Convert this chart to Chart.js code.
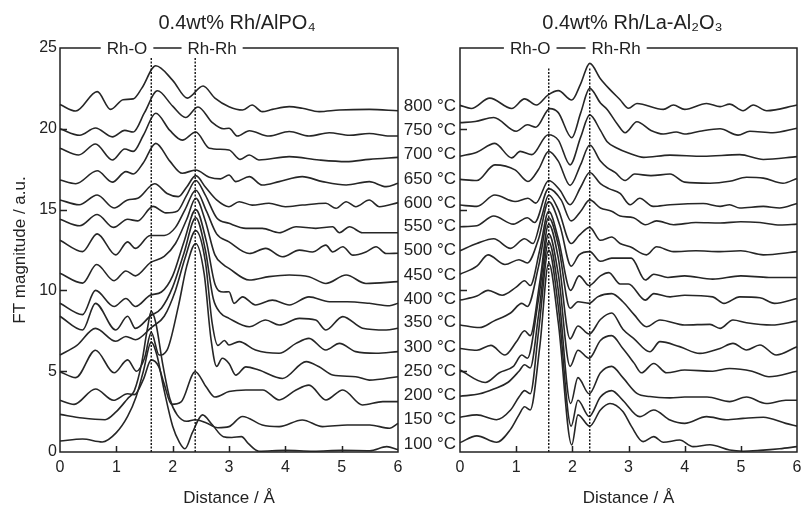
<!DOCTYPE html>
<html>
<head>
<meta charset="utf-8">
<script src="https://cdn.jsdelivr.net/npm/chart.js@4.4.1/dist/chart.umd.min.js"></script>
<style>
  body { margin: 0; background: #fff; width: 803px; height: 506px; overflow: hidden; position: relative; }
  canvas { position: absolute; top: 0; }
  #chartA { left: 0; z-index: 2; }
  #chartB { left: 402px; z-index: 1; }
</style>
</head>
<body>
<canvas id="chartA" width="412" height="506"></canvas>
<canvas id="chartB" width="411" height="506"></canvas>
<script>
const temps = ['100', '150', '200', '250', '300', '350', '400', '450', '500', '550', '600', '650', '700', '750', '800'];
// where the temperature labels sit, in FT magnitude units
const tempLevels = [0.5, 2.0, 3.5, 5.0, 6.5, 8.0, 9.45, 10.95, 12.45, 13.95, 15.4, 16.9, 18.4, 19.9, 21.4];
const xTicks = [0, 1, 2, 3, 4, 5, 6];
const yTicks = [0, 5, 10, 15, 20, 25];

// Rh/AlPO4, [distance, FT magnitude]
const alpo800 = [[0,21.5],[0.28,21.1],[0.66,22.3],[0.9,21.2],[1.12,21.8],[1.3,21.85],[1.45,22.5],[1.7,23.9],[2.0,23.0],[2.26,21.9],[2.54,22.65],[2.75,21.9],[3.0,21.37],[3.24,21.16],[3.41,21.47],[3.59,21.06],[3.77,21.2],[4.07,21.37],[4.3,21.27],[4.6,21.06],[4.96,21.16],[5.49,21.2],[6,21.12]];
const alpo750 = [[0,20.0],[0.35,19.6],[0.63,20.05],[0.93,19.5],[1.15,19.9],[1.3,19.8],[1.5,21.0],[1.73,22.35],[2.0,21.4],[2.23,20.7],[2.45,21.35],[2.7,20.4],[2.9,20.0],[3.0,20.03],[3.15,19.55],[3.36,19.88],[3.71,19.55],[4.07,19.83],[4.42,19.55],[4.78,19.76],[5.14,19.6],[5.49,19.71],[5.85,19.55],[6,19.55]];
const alpo700 = [[0,18.8],[0.33,18.38],[0.63,19.06],[0.93,18.07],[1.15,18.75],[1.3,18.6],[1.48,19.6],[1.7,20.96],[1.95,19.9],[2.17,19.3],[2.41,19.8],[2.65,18.8],[3.0,18.69],[3.2,18.11],[3.36,18.38],[3.53,18.07],[4.07,18.28],[4.6,18.07],[5.08,17.97],[5.49,18.11],[6,18.23]];
const alpo650 = [[0,16.83],[0.28,16.6],[0.66,17.4],[0.93,16.7],[1.17,17.35],[1.3,17.2],[1.48,17.9],[1.7,19.1],[1.95,18.0],[2.17,17.25],[2.41,17.45],[2.65,17.0],[2.85,16.9],[3.0,17.14],[3.12,16.73],[3.36,17.04],[3.59,16.52],[3.89,16.73],[4.3,17.04],[4.66,16.73],[5.08,16.52],[5.49,16.73],[5.79,16.42],[6,16.63]];
const alpo600 = [[0,15.6],[0.34,15.3],[0.66,15.9],[0.96,15.1],[1.2,15.6],[1.38,15.7],[1.68,16.6],[1.9,16.0],[2.1,15.8],[2.25,16.4],[2.41,17.1],[2.58,16.4],[2.78,15.6],[3.0,15.18],[3.18,15.49],[3.41,15.28],[3.71,15.39],[4.0,15.18],[4.3,15.28],[4.72,15.39],[4.9,15.08],[5.08,15.49],[5.25,15.18],[5.49,15.59],[5.67,15.18],[6,15.43]];
const alpo550 = [[0,14.4],[0.35,14.0],[0.66,14.7],[0.95,13.9],[1.2,14.4],[1.38,14.3],[1.65,15.2],[1.88,14.8],[2.08,14.9],[2.25,15.9],[2.41,16.8],[2.58,15.9],[2.78,14.5],[3.0,14.15],[3.3,13.84],[3.59,13.84],[3.89,13.57],[4.19,13.94],[4.54,13.84],[4.84,13.94],[4.96,13.57],[5.14,13.94],[5.37,13.57],[6,13.57]];
const alpo500 = [[0,13.1],[0.4,12.4],[0.66,13.5],[0.99,12.2],[1.2,13.0],[1.34,12.6],[1.6,13.4],[1.85,13.4],[2.05,13.9],[2.22,15.0],[2.41,16.2],[2.6,14.9],[2.78,13.5],[3.0,13.0],[3.36,12.28],[3.65,12.6],[3.95,12.08],[4.25,12.49],[4.48,12.38],[4.72,12.8],[4.84,12.38],[5.02,12.7],[5.2,12.18],[5.43,12.38],[5.61,12.7],[5.79,12.28],[6,12.3]];
const alpo450 = [[0,11.06],[0.4,10.45],[0.65,11.6],[0.96,10.6],[1.17,11.2],[1.34,10.9],[1.6,11.7],[1.85,12.1],[2.05,12.9],[2.25,14.4],[2.41,15.7],[2.58,14.3],[2.75,12.2],[2.9,11.6],[3.0,11.36],[3.36,10.64],[3.71,10.85],[4.07,10.95],[4.42,10.85],[4.72,10.43],[5.08,10.95],[5.43,10.43],[6,10.54]];
const alpo400 = [[0,9.2],[0.4,8.5],[0.63,10.0],[0.96,9.0],[1.17,9.5],[1.34,9.0],[1.6,9.7],[1.8,9.9],[2.0,10.9],[2.2,13.0],[2.41,15.0],[2.6,13.0],[2.75,10.4],[2.9,9.9],[3.0,9.92],[3.09,9.2],[3.24,9.6],[3.47,9.1],[3.77,9.4],[4.07,9.1],[4.42,9.6],[4.78,9.3],[5.1,9.3],[5.49,9.2],[5.85,9.05],[6,9.2]];
const alpo350 = [[0,8.4],[0.4,7.55],[0.63,9.2],[0.99,7.55],[1.2,8.4],[1.34,7.65],[1.6,8.4],[1.8,8.9],[2.0,10.2],[2.2,12.3],[2.41,14.5],[2.58,12.5],[2.72,9.5],[2.85,8.6],[3.0,8.27],[3.36,7.75],[3.65,8.17],[3.89,7.86],[4.25,8.27],[4.54,8.17],[4.72,7.55],[5.02,8.38],[5.37,7.66],[5.79,7.55],[6,7.66]];
const alpo300 = [[0,6.0],[0.3,6.6],[0.63,7.65],[0.99,6.85],[1.17,7.15],[1.34,6.95],[1.62,7.7],[1.85,8.4],[2.05,10.0],[2.22,12.0],[2.41,13.7],[2.58,11.8],[2.7,8.0],[2.8,6.6],[2.92,6.9],[3.0,6.62],[3.18,6.83],[3.47,6.31],[3.89,6.11],[4.19,6.72],[4.42,7.03],[4.72,6.31],[4.96,6.72],[5.25,6.21],[5.61,6.11],[6,6.21]];
const alpo250 = [[0,4.97],[0.28,4.6],[0.63,6.3],[0.96,4.9],[1.2,5.7],[1.36,5.0],[1.5,5.8],[1.62,7.4],[1.76,6.0],[1.9,6.3],[2.1,9.0],[2.25,11.5],[2.41,12.9],[2.56,11.0],[2.68,7.0],[2.78,5.3],[2.88,5.8],[3.0,5.48],[3.12,4.76],[3.3,5.27],[3.53,5.07],[3.95,4.55],[4.37,5.59],[4.6,5.27],[4.84,4.76],[5.25,4.66],[5.49,4.45],[6,4.66]];
const alpo200 = [[0,3.2],[0.25,2.95],[0.63,3.9],[0.95,3.2],[1.2,3.6],[1.32,3.55],[1.48,4.5],[1.62,5.7],[1.75,5.3],[1.85,4.2],[1.98,2.95],[2.15,3.1],[2.4,4.97],[2.6,4.0],[2.75,3.4],[3.0,3.74],[3.3,3.84],[3.6,3.84],[3.89,3.22],[4.19,3.84],[4.42,4.14],[4.72,3.22],[5.02,3.84],[5.37,2.91],[5.73,3.12],[6,3.12]];
const alpo150 = [[0,2.33],[0.4,2.1],[0.8,2.0],[1.0,2.5],[1.2,3.3],[1.32,3.8],[1.45,5.5],[1.55,7.6],[1.62,8.7],[1.7,8.0],[1.82,5.5],[1.95,3.3],[2.08,2.3],[2.25,1.9],[2.4,2.0],[2.6,1.8],[2.8,1.5],[3.0,1.57],[3.24,2.2],[3.59,1.67],[3.89,1.57],[4.3,1.98],[4.66,1.57],[5.1,1.67],[5.5,1.67],[5.85,1.47],[6,1.77]];
const alpo100 = [[0,0.68],[0.4,0.8],[0.75,0.62],[1.0,1.2],[1.2,2.2],[1.35,3.4],[1.48,5.0],[1.62,6.8],[1.72,6.0],[1.85,3.8],[2.0,1.6],[2.12,0.6],[2.22,0.2],[2.35,1.2],[2.53,2.3],[2.7,1.7],[2.9,0.95],[3.05,0.9],[3.22,0.95],[3.35,0.5],[3.53,0.05],[4.0,0.1],[4.5,0.05],[5.0,0.1],[5.5,0.08],[5.8,0.33],[6,0.15]];

// Rh/La-Al2O3
const la800 = [[0,21.45],[0.2,21.26],[0.53,21.9],[0.92,21.26],[1.15,21.85],[1.36,21.47],[1.57,22.1],[1.75,22.36],[1.99,21.78],[2.15,22.8],[2.31,24.05],[2.5,23.1],[2.65,22.5],[2.85,21.8],[3.0,21.27],[3.15,21.57],[3.62,21.2],[3.8,21.47],[4.0,21.2],[4.39,21.57],[4.63,21.37],[4.8,21.53],[5.04,21.12],[5.22,21.47],[5.46,21.12],[6,21.47]];
const la750 = [[0,20.38],[0.27,20.45],[0.6,20.7],[1.0,19.85],[1.2,20.25],[1.35,20.1],[1.6,21.25],[1.75,21.0],[1.99,19.45],[2.15,21.0],[2.31,22.5],[2.5,21.6],[2.62,21.2],[2.8,20.3],[2.94,19.76],[3.15,20.44],[3.4,19.9],[3.62,19.68],[3.85,19.8],[4.0,19.68],[4.27,19.85],[4.63,20.0],[4.95,19.61],[5.16,19.85],[5.57,19.76],[6,20.03]];
const la700 = [[0,18.3],[0.3,18.55],[0.62,19.1],[0.92,18.2],[1.07,18.6],[1.28,18.4],[1.57,19.63],[1.75,19.3],[1.96,17.77],[2.15,19.5],[2.31,20.86],[2.5,19.9],[2.62,19.2],[2.8,18.8],[3.0,18.5],[3.27,18.23],[3.74,18.37],[4.33,18.3],[4.98,18.4],[5.4,18.1],[6,18.28]];
const la650 = [[0,16.87],[0.3,16.8],[0.62,17.77],[0.98,17.46],[1.21,16.74],[1.4,17.5],[1.58,18.6],[1.75,18.0],[1.96,16.5],[2.15,17.8],[2.31,19.0],[2.5,18.0],[2.62,17.6],[2.76,17.3],[2.94,16.8],[3.11,17.2],[3.4,17.1],[3.74,17.2],[4.0,16.7],[4.45,16.63],[4.8,16.75],[5.1,17.0],[5.4,16.95],[5.75,16.63],[6,16.93]];
const la600 = [[0,15.28],[0.3,15.2],[0.62,15.9],[0.98,15.5],[1.21,15.7],[1.35,15.4],[1.58,16.8],[1.78,16.2],[1.96,15.3],[2.15,16.4],[2.31,17.3],[2.5,16.6],[2.65,16.3],[2.85,16.0],[3.03,15.3],[3.2,15.7],[3.44,15.2],[3.74,15.3],[4.33,15.38],[4.63,15.2],[4.8,15.3],[4.98,15.1],[5.4,15.2],[5.69,15.1],[6,15.38]];
const la550 = [[0,13.94],[0.3,14.0],[0.6,14.6],[0.95,14.1],[1.2,14.5],[1.33,14.2],[1.58,16.3],[1.8,15.6],[1.98,14.3],[2.15,14.9],[2.31,15.6],[2.5,15.1],[2.7,14.9],[2.85,14.6],[3.09,14.5],[3.3,14.06],[3.5,14.3],[3.8,14.06],[4.2,14.2],[4.63,14.17],[5.0,14.25],[5.34,14.2],[5.7,14.05],[6,14.1]];
const la500 = [[0,12.46],[0.3,12.9],[0.6,13.2],[0.9,12.6],[1.15,13.2],[1.3,12.9],[1.45,14.5],[1.58,15.9],[1.75,15.0],[1.98,12.9],[2.12,13.4],[2.31,13.9],[2.5,13.1],[2.7,13.3],[2.85,12.9],[3.03,12.7],[3.32,12.2],[3.5,12.7],[3.8,12.4],[4.2,12.45],[4.63,12.4],[5.0,12.45],[5.4,12.2],[6,12.4]];
const la450 = [[0,11.0],[0.3,11.5],[0.5,12.2],[0.8,11.6],[1.05,11.9],[1.2,11.7],[1.4,13.2],[1.58,15.5],[1.78,14.0],[1.98,11.5],[2.12,12.2],[2.31,12.4],[2.5,11.8],[2.7,12.0],[2.9,12.0],[3.05,12.0],[3.3,10.64],[3.45,11.0],[3.7,10.8],[4.0,10.9],[4.5,10.7],[5.0,10.9],[5.5,10.8],[6,10.8]];
const la400 = [[0,9.4],[0.3,9.65],[0.5,10.0],[0.75,9.7],[1.0,10.2],[1.15,10.6],[1.25,10.3],[1.42,12.5],[1.58,14.9],[1.75,13.2],[1.97,10.0],[2.12,10.9],[2.3,10.3],[2.5,10.9],[2.65,11.1],[2.85,10.4],[3.0,10.4],[3.3,9.4],[3.45,9.8],[3.74,9.6],[4.0,9.7],[4.5,9.6],[4.7,9.2],[4.98,9.6],[5.34,9.55],[5.6,9.2],[6,9.5]];
const la350 = [[0,7.86],[0.35,7.7],[0.6,8.1],[0.9,8.6],[1.1,9.2],[1.2,9.0],[1.4,11.5],[1.58,14.5],[1.75,12.8],[1.96,8.9],[2.1,9.3],[2.3,9.2],[2.45,9.6],[2.7,9.8],[2.9,9.3],[3.1,8.5],[3.32,7.75],[3.56,8.17],[4.0,7.86],[4.45,7.9],[4.63,7.65],[4.86,8.17],[5.1,8.0],[5.55,7.86],[6,8.1]];
const la300 = [[0,6.4],[0.3,6.3],[0.55,6.6],[0.8,6.0],[1.0,6.8],[1.15,7.5],[1.25,7.2],[1.42,10.5],[1.58,14.1],[1.75,12.0],[1.96,7.0],[2.1,7.8],[2.3,7.3],[2.5,8.2],[2.7,8.6],[2.9,7.6],[3.1,7.0],[3.38,6.2],[3.56,6.83],[3.91,6.52],[4.27,6.1],[4.63,6.41],[4.86,6.72],[5.1,6.31],[5.34,6.62],[5.63,6.0],[6,6.52]];
const la250 = [[0,5.07],[0.45,4.3],[0.7,4.9],[0.95,5.3],[1.1,6.0],[1.2,5.8],[1.4,9.5],[1.58,13.5],[1.75,11.0],[1.96,5.3],[2.1,6.3],[2.3,5.8],[2.5,6.9],[2.7,7.2],[2.9,6.4],[3.1,5.5],[3.23,4.9],[3.45,5.48],[3.68,4.9],[4.0,5.07],[4.5,5.0],[4.8,5.17],[5.2,5.0],[5.5,4.66],[6,5.0]];
const la200 = [[0,3.45],[0.35,3.6],[0.6,3.9],[0.85,4.3],[1.05,5.0],[1.15,5.4],[1.25,5.2],[1.4,8.5],[1.58,13.0],[1.75,10.0],[1.97,3.0],[2.1,4.6],[2.3,3.6],[2.5,4.9],[2.7,5.3],[2.9,4.6],[3.15,3.63],[3.38,3.43],[3.74,3.35],[4.0,3.4],[4.4,3.4],[4.8,3.12],[5.1,3.4],[5.45,3.0],[5.8,3.2],[6,3.2]];
const la150 = [[0,2.15],[0.3,2.3],[0.65,2.0],[0.9,2.6],[1.05,3.4],[1.15,3.8],[1.25,3.6],[1.4,7.5],[1.58,12.5],[1.75,9.0],[1.98,1.6],[2.1,3.2],[2.3,2.2],[2.5,3.4],[2.7,3.8],[2.9,3.2],[3.2,2.19],[3.45,2.6],[3.74,1.98],[4.0,1.77],[4.39,2.19],[4.74,2.0],[5.04,2.08],[5.4,2.15],[5.8,1.77],[6,1.6]];
const la100 = [[0,0.58],[0.3,1.0],[0.65,0.6],[0.9,1.4],[1.05,2.3],[1.15,2.8],[1.25,2.6],[1.42,6.5],[1.58,11.7],[1.75,8.0],[1.99,0.44],[2.1,2.3],[2.31,1.6],[2.5,2.6],[2.67,3.0],[2.9,2.5],[3.05,1.6],[3.26,0.64],[3.45,0.95],[3.62,0.6],[3.91,0.74],[4.15,0.33],[4.45,0.45],[4.8,0.12],[5.04,0.05],[5.34,0.1],[5.69,0.2],[6,0.33]];

const alpoCurves = [alpo100, alpo150, alpo200, alpo250, alpo300, alpo350, alpo400, alpo450, alpo500, alpo550, alpo600, alpo650, alpo700, alpo750, alpo800];
const laCurves = [la100, la150, la200, la250, la300, la350, la400, la450, la500, la550, la600, la650, la700, la750, la800];

// Rh-O and Rh-Rh reference distances (dotted lines)
const alpoShells = [1.62, 2.4];
const laShells = [1.58, 2.31];
const shellTop = [24.4, 23.8];

const FONT = '"Liberation Sans", Arial, Helvetica, sans-serif';
const INK = '#222';

function curveSets(curves) {
    return curves.map((pts, i) => ({
        label: temps[i] + ' °C',
        data: pts.map(p => ({ x: p[0], y: p[1] })),
        borderColor: '#262626',
        borderWidth: 1.6,
        pointRadius: 0,
        cubicInterpolationMode: 'monotone',
        clip: 4
    }));
}

function shellSets(shells, top) {
    return shells.map(s => ({
        label: 'shell',
        data: [{ x: s, y: 0 }, { x: s, y: top }],
        borderColor: '#111',
        borderWidth: 1.4,
        borderDash: [2, 1.5],
        pointRadius: 0
    }));
}

// box, inward ticks, panel title, the bond names cut into the top edge, temperature labels
const framePlugin = {
    id: 'frame',
    afterDatasetsDraw(chart, args, opts) {
        const { ctx, chartArea: a, scales } = chart;
        const x = scales.x;
        const y = scales.y;
        ctx.save();
        ctx.strokeStyle = INK;
        ctx.lineWidth = 1.5;
        ctx.strokeRect(a.left, a.top, a.right - a.left, a.bottom - a.top);

        ctx.beginPath();
        for (const v of xTicks.slice(1, -1)) {
            const px = Math.round(x.getPixelForValue(v)) + 0.5;
            ctx.moveTo(px, a.bottom);
            ctx.lineTo(px, a.bottom - 6);
        }
        for (const v of yTicks.slice(1, -1)) {
            const py = Math.round(y.getPixelForValue(v)) + 0.5;
            ctx.moveTo(a.left, py);
            ctx.lineTo(a.left + 7, py);
        }
        ctx.stroke();

        ctx.textAlign = 'center';
        ctx.textBaseline = 'middle';
        ctx.fillStyle = INK;
        ctx.font = '20px ' + FONT;
        ctx.fillText(opts.title, (a.left + a.right) / 2 + opts.titleShift, 23);

        ctx.font = '17px ' + FONT;
        for (const b of opts.bonds) {
            const px = x.getPixelForValue(b.at);
            const w = ctx.measureText(b.text).width + 12;
            ctx.fillStyle = '#fff';
            ctx.fillRect(px - w / 2, a.top - 4, w, 8);
            ctx.fillStyle = INK;
            ctx.fillText(b.text, px, a.top + 1);
        }

        if (opts.tempLabels) {
            ctx.font = '17px ' + FONT;
            ctx.textAlign = 'right';
            ctx.fillStyle = INK;
            temps.forEach((t, i) => {
                ctx.fillText(t + ' °C', a.left - 4, y.getPixelForValue(tempLevels[i]));
            });
        }
        ctx.restore();
    }
};

function makeChart(id, curves, shells, top, opts) {
    return new Chart(document.getElementById(id), {
        type: 'line',
        data: { datasets: shellSets(shells, top).concat(curveSets(curves)) },
        options: {
            responsive: false,
            animation: false,
            layout: { padding: { top: 48, right: opts.padRight, left: 0, bottom: 0 } },
            plugins: {
                legend: { display: false },
                tooltip: { enabled: false },
                title: { display: false },
                frame: opts
            },
            scales: {
                x: {
                    type: 'linear',
                    min: 0,
                    max: 6,
                    afterFit: s => { s.height = 54; s.paddingLeft = 0; s.paddingRight = 0; },
                    afterBuildTicks: s => { s.ticks = xTicks.map(v => ({ value: v })); },
                    grid: { display: false, drawTicks: false },
                    border: { display: false },
                    ticks: { color: INK, padding: 6, font: { family: FONT, size: 16 } },
                    title: {
                        display: true,
                        text: 'Distance / Å',
                        color: INK,
                        font: { family: FONT, size: 17 },
                        padding: { top: 0, bottom: -3 }
                    }
                },
                y: {
                    type: 'linear',
                    min: 0,
                    max: 25,
                    afterFit: s => { s.width = opts.yWidth; s.paddingTop = 0; s.paddingBottom = 0; },
                    afterBuildTicks: s => { s.ticks = yTicks.map(v => ({ value: v })); },
                    grid: { display: false, drawTicks: false },
                    border: { display: false },
                    ticks: { display: opts.yLabels, color: INK, padding: 3, font: { family: FONT, size: 16 } },
                    title: {
                        display: opts.yLabels,
                        text: 'FT magnitude / a.u.',
                        color: INK,
                        font: { family: FONT, size: 17 },
                        padding: { top: 10, bottom: 0 }
                    }
                }
            }
        },
        plugins: [framePlugin]
    });
}

makeChart('chartA', alpoCurves, alpoShells, shellTop[0], {
    title: '0.4wt% Rh/AlPO₄',
    titleShift: 8,
    padRight: 14,
    yWidth: 60,
    yLabels: true,
    tempLabels: false,
    bonds: [{ text: 'Rh-O', at: 1.19 }, { text: 'Rh-Rh', at: 2.7 }]
});

makeChart('chartB', laCurves, laShells, shellTop[1], {
    title: '0.4wt% Rh/La-Al₂O₃',
    titleShift: 4,
    padRight: 16,
    yWidth: 58,
    yLabels: false,
    tempLabels: true,
    bonds: [{ text: 'Rh-O', at: 1.25 }, { text: 'Rh-Rh', at: 2.78 }]
});
</script>
</body>
</html>
